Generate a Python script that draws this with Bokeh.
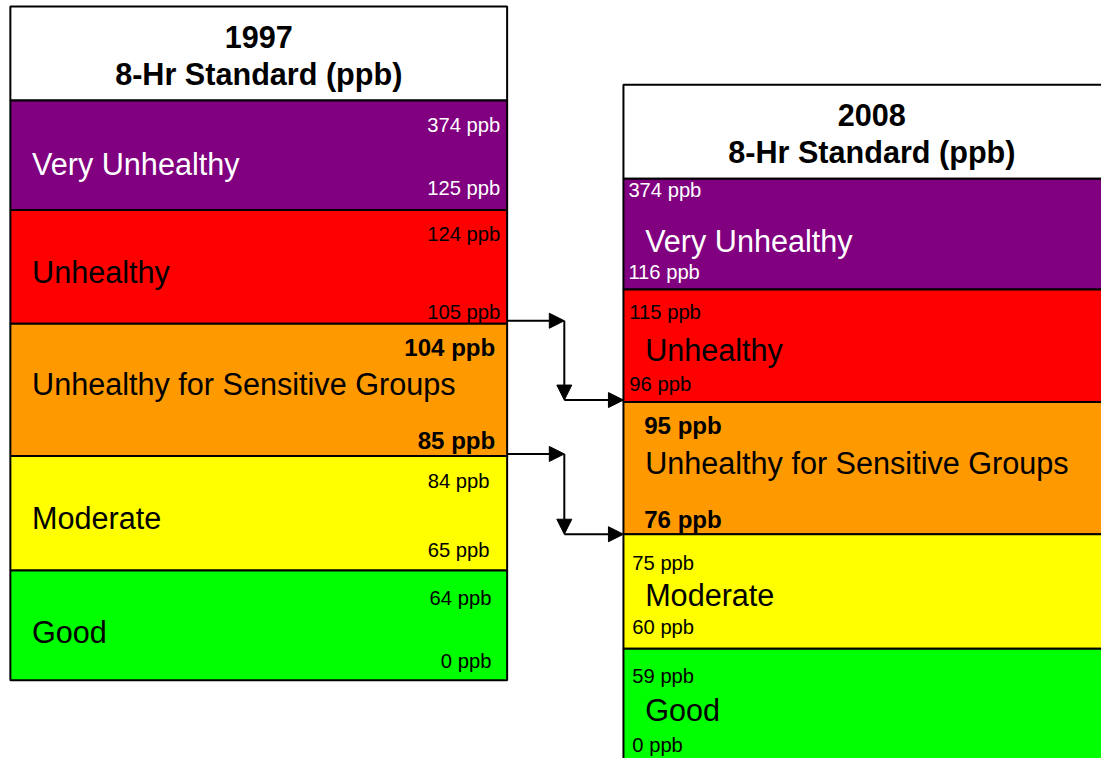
from bokeh.plotting import figure
from bokeh.models import Range1d, Arrow, NormalHead, ColumnDataSource
from bokeh.core.properties import value
from bokeh.embed import file_html
from bokeh.resources import INLINE

# ---------------- data ----------------
categories = ["Very Unhealthy", "Unhealthy", "Unhealthy for Sensitive Groups", "Moderate", "Good"]
colors = ["#800080", "#FF0000", "#FF9900", "#FFFF00", "#00FF00"]
text_colors = ["white", "black", "black", "black", "black"]
years = ["1997", "2008"]
header_sub = "8-Hr Standard (ppb)"
ppb_1997_high = [374, 124, 104, 84, 64]
ppb_1997_low = [125, 105, 85, 65, 0]
ppb_2008_high = [374, 115, 95, 75, 59]
ppb_2008_low = [116, 96, 76, 60, 0]
bold_rows = [2]  # the band whose limits changed most visibly

# ---------------- layout (reference-image pixel coordinates) ----------------
FONT = "Liberation Sans"
W, H = 1101, 758
p = figure(width=W, height=H, output_backend="svg", toolbar_location=None,
           x_range=Range1d(0, 1117), y_range=Range1d(774, 0),
           x_axis_location=None, y_axis_location=None, min_border=0)
p.outline_line_color = None
p.xgrid.visible = False
p.ygrid.visible = False
p.background_fill_color = "white"
p.border_fill_color = "white"

S = W / 1117.0
HEAD_FS = f"{31 * S:.1f}px"
CAT_FS = f"{31 * S:.1f}px"
NUM_FS = f"{20.5 * S:.1f}px"
BOLD_FS = f"{24.5 * S:.1f}px"

tables = [
    dict(left=10, right=514, top=6, edges=[102, 214, 330, 465, 582, 694],
         head_y=[37, 75], hi_y=[127, 238, 354, 491, 610], cat_y=[167, 277, 392, 528, 645],
         lo_y=[191, 318, 449, 561, 674], num_x=[507, 507, 502, 496, 498], cat_x=32,
         align="right", high=ppb_1997_high, low=ppb_1997_low, year=years[0]),
    dict(left=632, right=1136, top=86, edges=[182, 295, 410, 545, 662, 800],
         head_y=[117, 155], hi_y=[193, 318, 434, 574, 690], cat_y=[246, 357, 472, 607, 724],
         lo_y=[277, 392, 530, 640, 760], num_x=[637, 638, 653, 641, 641], cat_x=654,
         align="left", high=ppb_2008_high, low=ppb_2008_low, year=years[1]),
]

for t in tables:
    L, R, T, E = t["left"], t["right"], t["top"], t["edges"]
    # header box
    p.quad(left=[L], right=[R], top=[T], bottom=[E[0]], fill_color="white",
           line_color="black", line_width=2)
    cx = (L + R) / 2
    p.text(x=[cx, cx], y=t["head_y"], text=[t["year"], header_sub],
           text_font=value(FONT), text_font_style="bold", text_font_size=HEAD_FS,
           text_align="center", text_baseline="middle", text_color="black")
    # band boxes
    src = ColumnDataSource(dict(left=[L] * 5, right=[R] * 5, top=E[:5], bottom=E[1:6],
                                color=colors))
    p.quad(left="left", right="right", top="top", bottom="bottom", fill_color="color",
           line_color="black", line_width=2, source=src)
    for i, cat in enumerate(categories):
        bold = i in bold_rows
        fs = BOLD_FS if bold else NUM_FS
        style = "bold" if bold else "normal"
        tc = text_colors[i]
        nx = t["num_x"][i]
        p.text(x=[nx, nx], y=[t["hi_y"][i], t["lo_y"][i]],
               text=[f"{t['high'][i]} ppb", f"{t['low'][i]} ppb"],
               text_font=value(FONT), text_font_size=fs, text_font_style=style,
               text_align=t["align"], text_baseline="middle", text_color=tc)
        p.text(x=[t["cat_x"]], y=[t["cat_y"][i]], text=[cat], text_font=value(FONT),
               text_font_size=CAT_FS, text_align="left", text_baseline="middle",
               text_color=tc)

# ---------------- arrows between the tables ----------------
src_y = [327, 463]
dst_y = [408, 545]
for sy, dy in zip(src_y, dst_y):
    legs = [((514, sy), (572, sy)), ((572, sy), (572, dy)), ((572, dy), (632, dy))]
    for (x0, y0), (x1, y1) in legs:
        p.add_layout(Arrow(end=NormalHead(size=15, fill_color="black", line_color="black"),
                           x_start=x0, y_start=y0, x_end=x1, y_end=y1,
                           line_color="black", line_width=2))

open("out.html", "w").write(file_html(p, INLINE))
